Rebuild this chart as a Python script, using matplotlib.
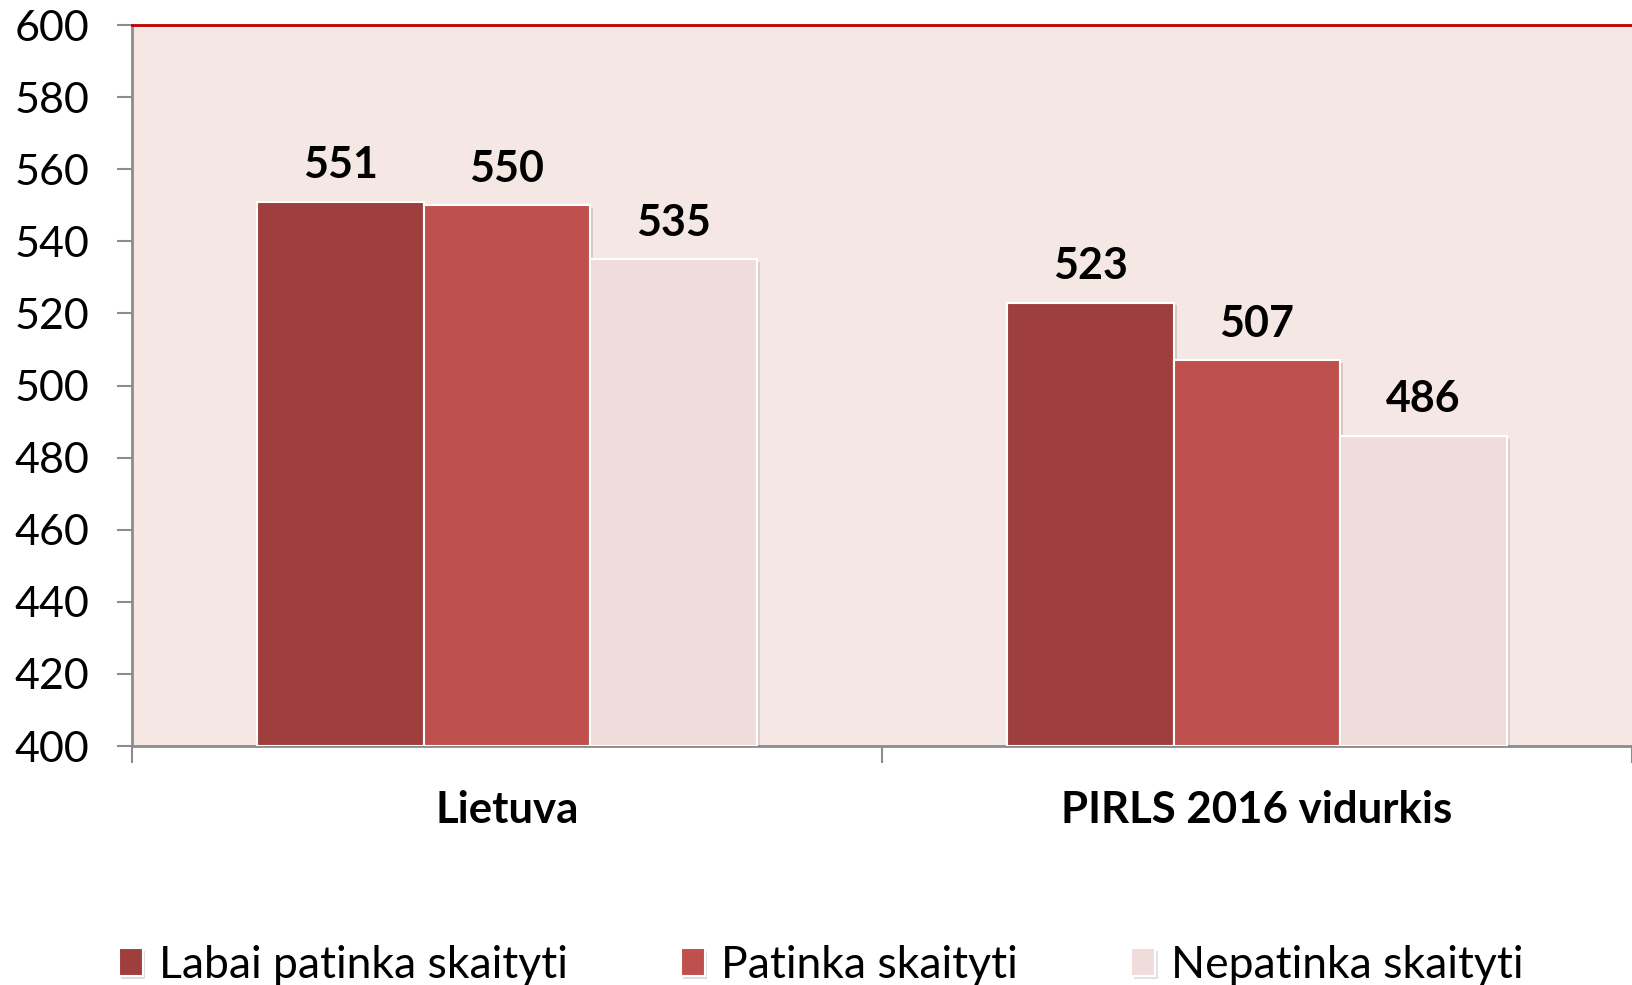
import matplotlib as mpl
import matplotlib.pyplot as plt
import matplotlib.patheffects as pe
import numpy as np

mpl.rcParams['font.family'] = ['Lato', 'DejaVu Sans']

categories = ['Lietuva', 'PIRLS 2016 vidurkis']
series_names = ['Labai patinka skaityti', 'Patinka skaityti', 'Nepatinka skaityti']
labai = [551, 523]
patinka = [550, 507]
nepatinka = [535, 486]

colors = ['#9E3F3E', '#C0504D', '#F0DCDB']

fig = plt.figure(figsize=(16.32, 9.85), dpi=100)
ax = fig.add_axes([0.0809, 0.2426, 0.9191, 0.732])
ax.set_facecolor('#F5E7E4')

xs = np.arange(len(categories))
w = 0.222
handles = []
for i, vals in enumerate([labai, patinka, nepatinka]):
    pos = xs + (i - 1) * w
    bars = ax.bar(pos, np.array(vals) - 400, bottom=400, width=w, color=colors[i],
                  edgecolor='white', linewidth=1.5, zorder=3,
                  path_effects=[pe.SimplePatchShadow(offset=(2, -2), alpha=0.15), pe.Normal()])
    handles.append(bars)
    for x, v in zip(pos, vals):
        ax.annotate(str(v), (x, v), xytext=(0, 12), textcoords='offset points',
                    ha='center', va='bottom', fontsize=31, fontweight='bold', color='black')

ax.set_ylim(400, 600)
ax.set_xlim(-0.5, 1.5)
ax.set_yticks(np.arange(400, 601, 20))
ax.tick_params(axis='y', labelsize=31, length=11, width=1.5, color='#8C8C8C', pad=20)

ax.set_xticks([-0.5, 0.5, 1.5])
ax.set_xticklabels([])
ax.set_xticks(xs, minor=True)
ax.set_xticklabels(categories, minor=True, fontsize=31.5, fontweight='bold')
ax.tick_params(axis='x', which='major', length=12, width=1.5, color='#8C8C8C')
ax.tick_params(axis='x', which='minor', length=0, pad=32)

for s in ['left', 'bottom']:
    ax.spines[s].set_color('#8C8C8C')
    ax.spines[s].set_linewidth(2)
ax.spines['top'].set_color('#C00000')
ax.spines['top'].set_linewidth(2)
ax.spines['right'].set_visible(False)

fig.legend(handles, series_names, loc='center', bbox_to_anchor=(0.503, 0.02),
           ncol=3, frameon=False, fontsize=32, handlelength=0.54, handleheight=0.6,
           handletextpad=0.36, columnspacing=2.55)

fig.savefig('out.png', dpi=100)
